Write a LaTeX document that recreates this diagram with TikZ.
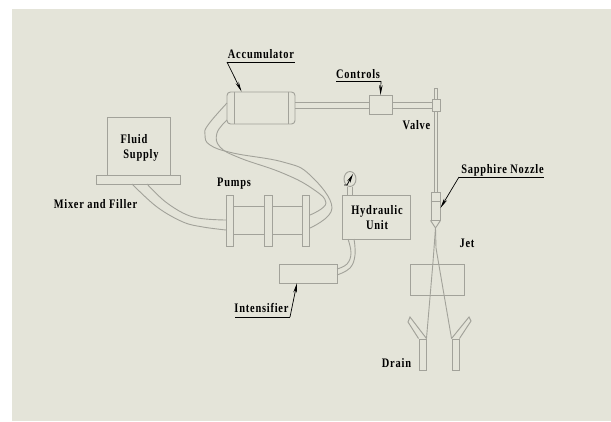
\documentclass[tikz,border=0pt]{standalone}
\usepackage{fontspec}
\setmainfont[LetterSpace=6,FakeStretch=0.8]{Liberation Serif}
\usetikzlibrary{arrows.meta,shapes.geometric}
\definecolor{paper}{HTML}{E4E4D9}
\definecolor{steel}{HTML}{A2A29A}
\tikzset{
	part/.style={rectangle,draw=steel,line width=0.95pt,inner sep=0pt},
	hose/.style={draw=steel,line width=0.9pt},
	tag/.style={inner sep=0pt,font=\bfseries\fontsize{13}{15}\selectfont,text=black},
	leader/.style={-{Stealth[length=10pt,width=3.5pt]},black,line width=0.7pt}
}
\begin{document}
\begin{tikzpicture}[x=1pt,y=-1pt]
\useasboundingbox (0,0) rectangle (611,421);
\fill[paper] (12,9) rectangle (611,421);
% supply
\node[part,minimum width=63pt,minimum height=58pt] (supply) at (138.5,146) {};
\node[part,minimum width=84pt,minimum height=9pt] (base) at (138,179.5) {};
\node[tag] (fluid) at (134,139) {Fluid};
\node[tag] (supply-text) at (141,155) {Supply};
\node[tag] (mixer) at (95.5,204) {Mixer and Filler};
% pumps
\foreach \n/\x in {1/230,2/268.5,3/306} {
	\node[part,minimum width=7.5pt,minimum height=51pt] (plate-\n) at (\x,220.5) {};
}
\draw[part] ([yshift=-12pt]plate-1.north east) -- ([yshift=-12pt]plate-2.north west);
\draw[part] ([yshift=12pt]plate-1.south east) -- ([yshift=12pt]plate-2.south west);
\draw[part] ([yshift=-12pt]plate-2.north east) -- ([yshift=-12pt]plate-3.north west);
\draw[part] ([yshift=12pt]plate-2.south east) -- ([yshift=12pt]plate-3.south west);
\node[tag] (pumps) at (234,184) {Pumps};
% accumulator
\node[part,rounded corners=3.5pt,minimum width=68pt,minimum height=32pt] (acc) at (261,108) {};
\draw[part] ([xshift=7.5pt]acc.north west) -- ([xshift=7.5pt]acc.south west);
\draw[part] ([xshift=-7.5pt]acc.north east) -- ([xshift=-7.5pt]acc.south east);
\node[tag] (acc-text) at (261,54.5) {Accumulator};
\draw[black,line width=0.7pt] (227,62) coordinate (acc-a) -- (295,62);
\draw[leader] (acc-a) -- ([xshift=15pt]acc.north west);
% controls and valve
\node[part,minimum width=23pt,minimum height=19pt] (controls) at (380.5,105) {};
\node[part,minimum width=8pt,minimum height=12pt] (valve) at (436,105) {};
\node[tag] (controls-text) at (358,74) {Controls};
\draw[black,line width=0.7pt] (336,81) -- (381,81) coordinate (controls-a);
\draw[leader] (controls-a) -- (controls.north);
\draw[part] ([yshift=6pt]acc.east) -- ([yshift=3pt]controls.west);
\draw[part] (acc.east) -- ([yshift=-3pt]controls.west);
\draw[part] ([yshift=3pt]controls.east) -- ([yshift=3pt]valve.west);
\draw[part] ([yshift=-3pt]controls.east) -- ([yshift=-3pt]valve.west);
\draw[part] ([xshift=-1.5pt]valve.north) -- ++(0,-10) -- ++(3,0) -- ([xshift=1.5pt]valve.north);
\node[tag] (valve-text) at (416.5,125) {Valve};
% nozzle
\node[part,minimum width=9pt,minimum height=28pt] (nozzle) at (435.5,206) {};
\draw[part] ([xshift=-1.5pt]valve.south) -- ([xshift=-1pt]nozzle.north);
\draw[part] ([xshift=1.5pt]valve.south) -- ([xshift=2pt]nozzle.north);
\draw[part] ([yshift=-10pt]nozzle.north west) -- ([yshift=-10pt]nozzle.north east);
\coordinate (tip) at (435.5,228);
\draw[part] (nozzle.south west) -- (tip) -- (nozzle.south east);
\node[tag] (nozzle-text) at (502.5,170) {Sapphire Nozzle};
\draw[black,line width=0.7pt] (459,177) coordinate (nozzle-a) -- (544,177);
\draw[leader] (nozzle-a) -- ([yshift=-2pt]nozzle.east);
% jet and drain
\node[part,minimum width=54pt,minimum height=31pt] (box) at (437,279.5) {};
\node[tag] (jet) at (467,243) {Jet};
\node[part,minimum width=7pt,minimum height=31pt] (drain-l) at (422.5,354.5) {};
\node[part,minimum width=7pt,minimum height=31pt] (drain-r) at (455.5,354.5) {};
\node[tag] (drain) at (396.5,363) {Drain};
\draw[hose] (tip) -- (433,262) -- (drain-l.north east);
\draw[hose] (tip) -- (436,248) -- (drain-r.north west);
\draw[part] (drain-l.north west) -- (408,322) -- (410,317) -- (drain-l.north east);
\draw[part] (drain-r.north east) -- (471,321) -- (469,317) -- (drain-r.north west);
% hydraulic unit
\node[part,minimum width=68pt,minimum height=44pt] (unit) at (376,217) {};
\node[tag] (unit-a) at (377,211) {Hydraulic};
\node[tag] (unit-b) at (377,225) {Unit};
\node[ellipse,draw=steel,line width=0.95pt,inner sep=0pt,minimum width=12pt,minimum height=15pt] (gauge) at (350,179) {};
\draw[part] ([xshift=-2.5pt]gauge.south) -- ([xshift=-2.5pt]gauge.south |- unit.north);
\draw[part] ([xshift=2.5pt]gauge.south) -- ([xshift=2.5pt]gauge.south |- unit.north);
\draw[-{Stealth[length=9pt,width=3.5pt]},black,line width=0.8pt] (344,185) -- (347,185) -- (353,174);
% intensifier
\node[part,minimum width=58pt,minimum height=19pt] (intens) at (308,273.5) {};
\node[tag] (intens-text) at (261.5,308) {Intensifier};
\draw[black,line width=0.7pt] (235,317) -- (290,317) coordinate (intens-a);
\draw[leader] (intens-a) -- (297,283);
% hoses
\draw[hose] plot[smooth,tension=0.6] coordinates {(147,184) (167,203) (193,217) (226,220)};
\draw[hose] plot[smooth,tension=0.6] coordinates {(132,184) (157,207) (183,222) (203,227) (226,230)};
\draw[hose] plot[smooth,tension=0.7] coordinates {(227,103) (208,125) (205,135) (210,145) (233,153) (283,162) (310,175) (332,208) (310,228)};
\draw[hose] plot[smooth,tension=0.7] coordinates {(227,120) (217,133) (220,147) (240,158) (280,172) (310,187) (326,203) (310,215)};
\draw[hose] plot[smooth,tension=0.7] coordinates {(348,239) (351,253) (347,264) (337,269)};
\draw[hose] plot[smooth,tension=0.7] coordinates {(354,239) (355,255) (350,268) (337,275)};
\end{tikzpicture}
\end{document}
